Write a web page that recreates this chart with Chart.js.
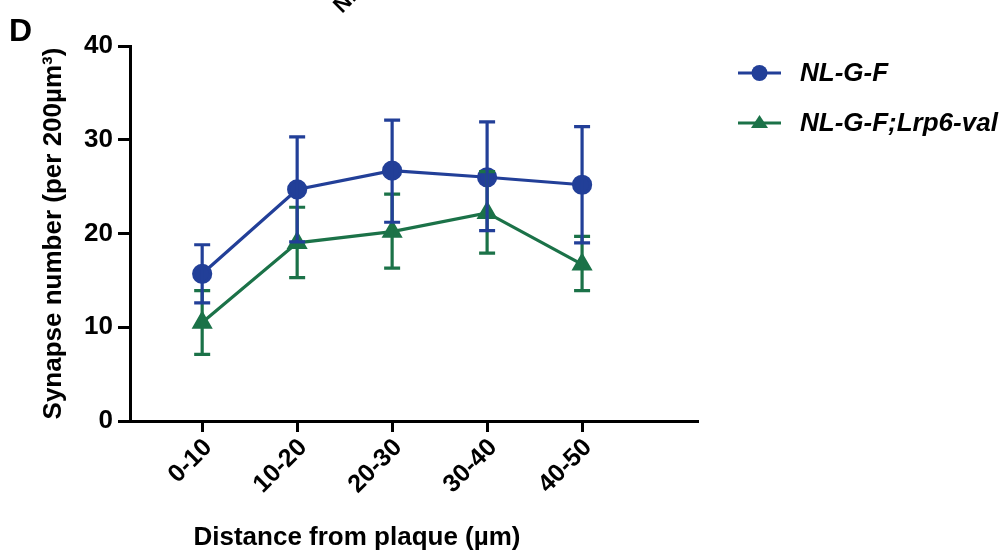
<!DOCTYPE html>
<html>
<head>
<meta charset="utf-8">
<script src="https://cdn.jsdelivr.net/npm/chart.js@4.4.0/dist/chart.umd.min.js"></script>
<style>
html,body{margin:0;padding:0;background:#fff;}
#wrap{width:1005px;height:560px;position:relative;}
</style>
</head>
<body>
<div id="wrap"><canvas id="c" width="1005" height="560"></canvas></div>
<script>
const categories = ['0-10', '10-20', '20-30', '30-40', '40-50'];
const seriesNames = ['NL-G-F', 'NL-G-F;Lrp6-val'];
const nlgfMean  = [15.7, 24.7, 26.7, 26.0, 25.2];
const nlgfUpper = [18.8, 30.3, 32.1, 31.9, 31.4];
const nlgfLower = [12.6, 19.1, 21.2, 20.3, 19.0];
const lrp6Mean  = [10.5, 19.0, 20.2, 22.2, 16.7];
const lrp6Upper = [13.9, 22.8, 24.2, 26.6, 19.7];
const lrp6Lower = [7.1, 15.3, 16.3, 17.9, 13.9];
const yTicks = [0, 10, 20, 30, 40];

const BLUE = '#223f98';
const GREEN = '#1b7248';
const FONT = '"Liberation Sans", Arial, sans-serif';

function pts(arr){ return arr.map((v,i)=>({x:i,y:v})); }

const errorBars = {
  id: 'errorBars',
  afterDatasetsDraw(chart) {
    const ctx = chart.ctx, xs = chart.scales.x, ys = chart.scales.y;
    const sets = [
      {u: lrp6Upper, l: lrp6Lower, c: GREEN},
      {u: nlgfUpper, l: nlgfLower, c: BLUE}
    ];
    ctx.save();
    ctx.lineWidth = 3.2;
    sets.forEach(s => {
      ctx.strokeStyle = s.c;
      s.u.forEach((u, i) => {
        const x = xs.getPixelForValue(i);
        const yu = ys.getPixelForValue(u), yl = ys.getPixelForValue(s.l[i]);
        ctx.beginPath();
        ctx.moveTo(x, yu); ctx.lineTo(x, yl);
        ctx.moveTo(x-8, yu); ctx.lineTo(x+8, yu);
        ctx.moveTo(x-8, yl); ctx.lineTo(x+8, yl);
        ctx.stroke();
      });
    });
    ctx.restore();
  }
};

const extras = {
  id: 'extras',
  afterDraw(chart) {
    const ctx = chart.ctx;
    ctx.save();
    ctx.fillStyle = '#000';
    // cut-off heading fragment at top
    ctx.save();
    ctx.translate(342, 14);
    ctx.rotate(-Math.PI / 4);
    ctx.font = 'bold 22px ' + FONT;
    ctx.textAlign = 'left';
    ctx.textBaseline = 'alphabetic';
    ctx.fillText('NL-G-F', 0, 0);
    ctx.restore();
    // panel letter
    ctx.font = 'bold 32px ' + FONT;
    ctx.textBaseline = 'alphabetic';
    ctx.textAlign = 'left';
    ctx.fillText('D', 9, 41);
    // x axis title
    ctx.font = 'bold 26px ' + FONT;
    ctx.textAlign = 'center';
    ctx.fillText('Distance from plaque (\u00b5m)', 357, 545);
    // legend
    const items = [
      {name: seriesNames[0], c: BLUE, style: 'circle'},
      {name: seriesNames[1], c: GREEN, style: 'triangle'}
    ];
    items.forEach((it, k) => {
      const y = 73 + k * 50;
      ctx.strokeStyle = it.c; ctx.fillStyle = it.c; ctx.lineWidth = 3.2;
      ctx.beginPath(); ctx.moveTo(738, y); ctx.lineTo(781, y); ctx.stroke();
      ctx.beginPath();
      if (it.style === 'circle') {
        ctx.arc(759.5, y, 8, 0, Math.PI*2);
      } else {
        ctx.moveTo(759.5, y-8); ctx.lineTo(768, y+5); ctx.lineTo(751, y+5); ctx.closePath();
      }
      ctx.fill();
      ctx.fillStyle = '#000';
      ctx.font = 'italic bold 26px ' + FONT;
      ctx.textAlign = 'left';
      ctx.textBaseline = 'middle';
      ctx.fillText(it.name, 800, y + 1);
    });
    ctx.restore();
  }
};

new Chart(document.getElementById('c'), {
  type: 'line',
  data: {
    datasets: [
      {
        label: seriesNames[0], data: pts(nlgfMean),
        borderColor: BLUE, backgroundColor: BLUE, borderWidth: 3.2,
        pointStyle: 'circle', pointRadius: 8.5, tension: 0
      },
      {
        label: seriesNames[1], data: pts(lrp6Mean),
        borderColor: GREEN, backgroundColor: GREEN, borderWidth: 3.2,
        pointStyle: 'triangle', pointRadius: 9, tension: 0
      }
    ]
  },
  options: {
    responsive: false,
    animation: false,
    layout: { padding: { left: 38, top: 46, right: 308, bottom: 0 } },
    plugins: { legend: { display: false }, tooltip: { enabled: false } },
    scales: {
      x: {
        type: 'linear', min: -0.76, max: 5.21,
        afterBuildTicks: s => { s.ticks = categories.map((c, i) => ({ value: i })); },
        afterFit: s => { s.height = 139; },
        grid: { drawOnChartArea: false, drawTicks: true, tickLength: 11, tickColor: '#000', lineWidth: 3 },
        border: { display: true, color: '#000', width: 3 },
        ticks: {
          callback: v => categories[v],
          maxRotation: 45, minRotation: 45, autoSkip: false, labelOffset: 6,
          color: '#000', font: { family: FONT, size: 25, weight: 'bold' }, padding: 1
        }
      },
      y: {
        min: 0, max: 40,
        afterBuildTicks: s => { s.ticks = yTicks.map(v => ({ value: v })); },
        afterFit: s => { s.width = 92; },
        grid: { drawOnChartArea: false, drawTicks: true, tickLength: 12, tickColor: '#000', lineWidth: 3 },
        border: { display: true, color: '#000', width: 3 },
        ticks: { color: '#000', font: { family: FONT, size: 26, weight: 'bold' }, padding: 5 },
        title: {
          display: true, text: 'Synapse number (per 200\u00b5m\u00b3)',
          color: '#000', font: { family: FONT, size: 26, weight: 'bold' }, padding: { top: 0, bottom: 0 }
        }
      }
    }
  },
  plugins: [errorBars, extras]
});
</script>
</body>
</html>
